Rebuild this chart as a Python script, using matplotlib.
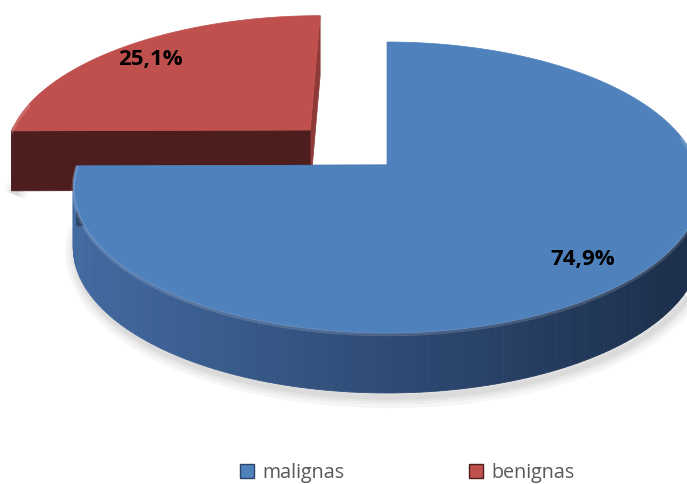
import numpy as np
import matplotlib
matplotlib.use("Agg")
import matplotlib.pyplot as plt
from matplotlib.patches import Polygon, Patch
from matplotlib.colors import to_rgb

# data
labels = ["malignas", "benignas"]
values = [74.9, 25.1]
pct_labels = ["74,9%", "25,1%"]
explode = [0.0, 0.363]
top_colors = ["#4F81BD", "#C0504D"]
side_left = ["#4269A0", "#561F1E"]
side_right = ["#1C2F4C", "#481B1A"]
front_cut = ["#2B4468", "#4E1E1E"]
edge_cut = ["#3A5F8F", "#8E3A37"]

# perspective of the tilted disc (pixel space)
CX, S = 387.0, 310.0
A, B, C = -116.5, 165.0, 0.1546
T = 60.0


def proj(u, v, z=0.0):
    d = 1 + C * v
    x = CX + S * u / d
    y = (A * v + B) / d + z * T
    return x, y


fig = plt.figure(figsize=(6.87, 4.84), dpi=100)
ax = fig.add_axes([0, 0, 1, 1])
ax.set_xlim(0, 687)
ax.set_ylim(484, 0)
ax.axis("off")


def lerp(c1, c2, t):
    a = np.array(to_rgb(c1))
    b = np.array(to_rgb(c2))
    return tuple(a + (b - a) * t)


# angles: first slice starts at 12 o'clock, clockwise
total = sum(values)
starts = []
ang = 90.0
for val in values:
    span = 360.0 * val / total
    starts.append((ang - span, ang))
    ang -= span

order = [1, 0]  # back slice first
for i in order:
    t0, t1 = np.radians(starts[i][0]), np.radians(starts[i][1])
    mid = 0.5 * (t0 + t1)
    ou, ov = explode[i] * np.cos(mid), explode[i] * np.sin(mid)
    th = np.linspace(t0, t1, 200)
    us = ou + np.cos(th)
    vs = ov + np.sin(th)

    # soft shadow under the front rim
    front = np.sin(th) < 0.05
    if front.any():
        bx, by = proj(us[front], vs[front], 1.0)
        for lw in [16, 11, 7, 4]:
            ax.plot(bx + 3, by + 4, color="#000000", alpha=0.035, lw=lw,
                    solid_capstyle="butt", zorder=1)

    # outer wall, front facing part, gradient by x
    for k in range(len(th) - 1):
        if np.sin(th[k]) + np.sin(th[k + 1]) > 0.05:
            continue
        x0, y0 = proj(us[k], vs[k])
        x1, y1 = proj(us[k + 1], vs[k + 1])
        x2, y2 = proj(us[k + 1], vs[k + 1], 1.0)
        x3, y3 = proj(us[k], vs[k], 1.0)
        f = np.clip((0.5 * (x0 + x1) - 80) / 600, 0, 1)
        col = lerp(side_left[i], side_right[i], f)
        ax.add_patch(Polygon([(x0, y0), (x1, y1), (x2, y2), (x3, y3)],
                             closed=True, fc=col, ec=col, lw=0.6, zorder=2))

    # cut faces (radial walls)
    for tt in (t0, t1):
        cx0, cy0 = proj(ou, ov)
        ex, ey = proj(ou + np.cos(tt), ov + np.sin(tt))
        cx1, cy1 = proj(ou, ov, 1.0)
        ex1, ey1 = proj(ou + np.cos(tt), ov + np.sin(tt), 1.0)
        col = front_cut[i] if abs(np.cos(tt)) > 0.5 else edge_cut[i]
        ax.add_patch(Polygon([(cx0, cy0), (ex, ey), (ex1, ey1), (cx1, cy1)],
                             closed=True, fc=col, ec=col, lw=0.5, zorder=3))

    # top face
    px, py = proj(us, vs)
    cx0, cy0 = proj(ou, ov)
    pts = [(cx0, cy0)] + list(zip(px, py))
    ax.add_patch(Polygon(pts, closed=True, fc=top_colors[i],
                         ec=top_colors[i], lw=0.5, zorder=4))
    # rim highlight
    rim = np.sin(th) < 0.2
    if rim.any():
        hx, hy = proj(us[rim], vs[rim])
        ax.plot(hx, hy + 1.5, color="white", alpha=0.15, lw=2.5, zorder=5)

# data labels
ax.text(583, 259, pct_labels[0], ha="center", va="center", fontsize=16,
        fontweight="bold", family="Open Sans", color="black", zorder=6)
ax.text(150, 59, pct_labels[1], ha="center", va="center", fontsize=16,
        fontweight="bold", family="Open Sans", color="black", zorder=6)

handles = [Patch(fc=top_colors[0], ec=front_cut[0], lw=1),
           Patch(fc=top_colors[1], ec=front_cut[1], lw=1)]
fig.legend(handles, labels, loc="lower center", ncol=2, frameon=False,
           bbox_to_anchor=(0.593, -0.035),
           prop={"family": "Open Sans", "size": 14.2},
           labelcolor="#595959", handlelength=0.7, handleheight=0.7,
           handletextpad=0.45, columnspacing=6.3)

fig.savefig("out.png", dpi=100)
